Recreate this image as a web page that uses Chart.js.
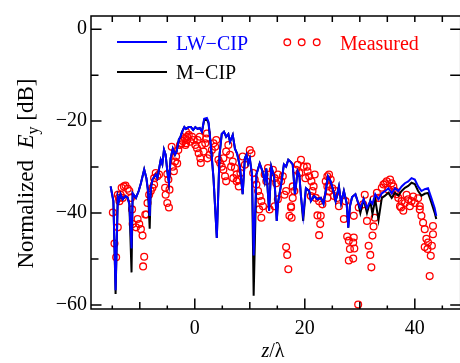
<!DOCTYPE html>
<html>
<head>
<meta charset="utf-8">
<script src="https://cdn.jsdelivr.net/npm/chart.js@4.4.0/dist/chart.umd.min.js"></script>
<style>
  html, body { margin: 0; padding: 0; background: #fff; overflow: hidden; }
  #wrap { position: relative; width: 466px; height: 363px; }
</style>
</head>
<body>
<div id="wrap"><canvas id="field-chart"></canvas></div>
<script>
// z/lambda positions of the two simulated curves
var zLine = [-15.3,-14.8,-14.4,-14.0,-13.8,-13.5,-13.1,-12.6,-12.2,-11.9,
  -11.5,-11.3,-10.7,-10.2,-9.8,-9.2,-8.8,-8.5,-8.2,-8.0,
  -7.7,-7.1,-6.8,-6.2,-5.9,-5.6,-5.3,-5.0,-4.7,-4.4,
  -4.0,-3.6,-3.3,-2.9,-2.6,-2.3,-1.9,-1.6,-1.1,-0.7,
  -0.3,0.1,0.5,0.9,1.3,1.7,2.2,2.5,2.9,3.4,
  4.0,4.5,4.9,5.3,5.7,6.1,6.4,6.9,7.3,7.7,
  8.2,8.7,9.1,9.4,9.7,10.0,10.4,10.7,11.2,11.8,
  12.3,12.7,13.0,13.5,13.9,14.4,14.6,14.9,15.1,15.7,
  16.2,16.6,17.0,17.4,17.8,18.2,18.7,19.0,19.3,19.7,
  20.2,20.8,21.1,21.7,22.3,22.9,23.4,23.8,24.2,24.7,
  25.2,25.6,26.2,26.6,27.1,27.6,27.9,28.2,28.6,29.2,
  29.7,30.1,30.7,31.3,31.9,32.3,32.8,33.4,34.0,34.6,
  35.2,35.8,36.4,37.0,37.6,38.2,38.8,39.4,40.0,40.6,
  41.2,41.8,42.4,43.0,43.6,43.9];

var lwCip = [-34.2,-37.4,-56.8,-36.5,-37.4,-35.9,-37.0,-36.3,-36.7,-38.0,
  -47.7,-35.7,-36.7,-35.2,-33.5,-30.5,-32.4,-35.2,-40.6,-34.6,
  -32.7,-31.6,-32.4,-28.4,-29.4,-26.2,-27.3,-30.9,-33.5,-28.1,
  -26.0,-27.3,-26.6,-24.0,-23.4,-22.3,-21.3,-21.7,-21.3,-21.3,
  -21.9,-21.3,-21.7,-21.5,-22.3,-19.5,-19.3,-20.2,-25.1,-32.4,
  -45.4,-27.3,-22.8,-22.3,-23.4,-22.8,-24.5,-23.0,-26.0,-27.1,
  -29.9,-35.9,-28.1,-27.3,-29.2,-28.1,-31.6,-49.2,-31.6,-29.2,
  -30.9,-33.1,-30.3,-39.5,-29.9,-32.0,-35.2,-41.7,-38.0,-33.7,
  -29.4,-29.9,-28.4,-28.8,-29.4,-35.9,-30.9,-31.6,-36.3,-40.6,
  -34.6,-35.2,-37.4,-36.3,-37.0,-36.7,-38.0,-35.2,-32.0,-33.1,
  -35.2,-37.4,-34.2,-37.8,-35.2,-37.8,-43.2,-38.5,-36.5,-35.9,
  -37.8,-38.9,-37.0,-38.9,-37.4,-38.0,-35.9,-37.0,-35.7,-35.2,
  -34.6,-35.7,-34.6,-35.2,-34.2,-33.5,-33.1,-32.4,-32.7,-34.2,
  -35.2,-34.8,-34.6,-36.7,-38.9,-40.6];

var mCip = [-34.2,-37.4,-57.6,-36.5,-37.4,-35.9,-37.0,-36.3,-36.7,-38.0,
  -52.9,-35.7,-36.7,-35.2,-33.5,-30.5,-32.4,-35.2,-43.4,-34.6,
  -32.7,-31.6,-32.4,-28.4,-29.4,-26.2,-27.3,-30.9,-33.5,-28.1,
  -26.0,-27.3,-26.6,-24.0,-23.4,-22.3,-21.3,-21.7,-21.3,-21.3,
  -21.9,-21.3,-21.7,-21.5,-22.3,-19.8,-19.6,-20.5,-25.1,-32.4,
  -45.4,-27.3,-22.8,-22.3,-23.4,-22.8,-24.5,-23.0,-26.0,-27.1,
  -29.9,-35.9,-28.1,-27.3,-29.2,-28.1,-31.6,-58.0,-31.6,-29.2,
  -30.9,-33.1,-30.3,-39.5,-29.9,-32.0,-35.2,-41.7,-38.0,-33.7,
  -29.4,-29.9,-28.4,-28.8,-29.4,-35.9,-30.9,-31.6,-36.3,-41.7,
  -34.6,-35.2,-37.4,-36.3,-37.0,-36.7,-38.0,-35.2,-32.0,-33.1,
  -35.2,-37.4,-34.2,-37.8,-35.2,-37.8,-43.2,-38.5,-36.5,-35.9,
  -37.8,-40.0,-37.0,-40.0,-37.4,-40.2,-37.0,-41.5,-36.7,-36.2,
  -35.6,-36.7,-35.6,-36.2,-35.2,-34.5,-34.1,-33.4,-33.7,-35.2,
  -36.2,-35.8,-35.6,-37.7,-39.9,-41.3];

// measured samples
var measZ = [-14.9,-14.6,-14.3,-14.0,-13.7,-13.8,-13.5,-13.3,-12.9,-12.6,
  -12.2,-11.9,-11.6,-11.4,-11.3,-10.7,-10.4,-10.1,-9.8,-9.5,
  -9.0,-8.8,-9.2,-9.4,-8.6,-8.3,-8.0,-7.7,-7.4,-5.3,
  -5.0,-4.7,-5.4,-13.1,-14.0,-7.1,-7.4,-6.8,-6.5,-5.0,
  -4.8,-4.6,-4.2,-4.0,-3.6,-3.4,-3.0,-2.7,-2.4,-2.2,
  -1.8,-1.6,-1.4,-1.6,-1.5,-1.1,-1.7,-0.8,-0.5,-0.2,
  0.1,0.4,0.7,1.0,1.1,1.6,1.9,2.1,2.2,2.3,
  2.7,3.1,3.4,3.7,3.9,4.3,4.6,4.9,5.2,5.5,
  5.7,5.2,5.7,6.1,6.4,6.9,7.3,7.6,7.9,7.6,
  8.3,8.7,9.1,10.0,10.3,10.6,10.9,11.2,11.5,11.8,
  12.1,12.4,11.7,12.1,13.3,14.2,14.5,14.8,15.1,15.7,
  16.0,16.3,16.6,15.1,14.5,17.8,18.1,17.8,17.5,18.4,
  18.7,19.3,19.8,20.4,20.5,20.8,21.2,21.6,21.8,21.4,
  22.0,21.1,24.1,24.4,24.7,23.8,24.1,24.4,24.1,25.0,
  25.3,25.6,25.9,26.2,23.2,22.6,27.4,13.6,17.2,17.6,
  17.5,16.6,16.8,17.0,22.3,22.9,22.8,22.6,27.1,27.7,
  28.0,28.9,28.8,28.2,29.0,28.0,28.8,29.7,28.9,31.3,
  31.6,31.9,32.1,32.3,32.5,32.7,37.5,37.9,40.9,41.2,
  41.5,41.8,42.1,42.4,41.8,42.3,42.9,43.3,43.3,43.1,
  42.7,30.9,30.6,29.8,32.5,33.1,33.4,34.0,34.3,34.6,
  34.9,35.5,35.8,36.1,35.2,36.4,37.0,37.6,38.2,38.8,
  39.4,40.0,40.6,40.9,39.1,37.3,-3.8,-3.2,0.5,1.3,
  0.9,6.6,7.0,8.0,12.7,13.0,19.0,20.1,36.7,38.5,
  39.7];

var measEy = [-39.9,-46.6,-49.6,-43.1,-37.4,-36.7,-36.0,-34.5,-34.2,-34.0,
  -34.7,-35.2,-36.7,-39.2,-42.4,-43.1,-41.3,-42.4,-43.5,-44.9,
  -40.3,-40.3,-49.5,-51.6,-37.8,-36.0,-35.2,-34.5,-33.8,-36.0,
  -37.8,-38.8,-34.5,-36.7,-36.0,-31.3,-32.4,-32.0,-31.6,-31.5,
  -32.7,-34.9,-25.6,-29.9,-28.8,-27.7,-26.3,-25.2,-24.8,-24.3,
  -23.8,-24.8,-23.4,-22.3,-24.1,-23.0,-25.2,-24.5,-23.4,-24.1,
  -25.2,-25.9,-27.0,-28.1,-29.1,-26.6,-24.8,-23.8,-22.7,-28.1,
  -27.3,-26.3,-24.8,-25.6,-24.1,-28.4,-29.1,-29.9,-30.6,-32.0,
  -33.1,-28.1,-26.6,-25.2,-27.3,-28.8,-30.2,-31.6,-32.7,-33.1,
  -31.3,-27.7,-29.5,-26.3,-27.0,-31.3,-32.7,-33.8,-35.2,-36.3,
  -37.4,-38.5,-39.2,-41.0,-30.2,-30.6,-32.4,-33.5,-31.6,-33.1,
  -32.0,-36.0,-35.2,-37.0,-38.5,-34.2,-35.2,-36.7,-38.5,-30.6,
  -29.5,-28.4,-29.9,-29.9,-30.9,-32.0,-33.1,-34.2,-31.6,-35.2,
  -36.7,-36.3,-32.0,-31.6,-32.7,-33.1,-34.2,-35.2,-36.7,-34.6,
  -36.3,-35.2,-36.7,-38.5,-38.1,-37.4,-37.4,-39.2,-40.6,-41.0,
  -38.8,-47.4,-49.1,-52.2,-40.5,-40.6,-42.4,-44.8,-41.3,-45.1,
  -46.0,-45.3,-46.4,-47.8,-47.7,-50.3,-49.9,-59.9,-40.6,-41.7,
  -47.1,-49.1,-51.8,-44.9,-42.9,-41.0,-38.8,-39.5,-39.2,-40.6,
  -42.1,-43.5,-45.6,-46.4,-47.4,-47.8,-49.3,-42.8,-44.6,-47.1,
  -53.7,-36.0,-38.1,-38.8,-37.0,-35.6,-36.7,-34.5,-33.8,-33.5,
  -33.1,-32.7,-33.5,-34.2,-34.9,-35.2,-36.7,-37.4,-37.8,-37.0,
  -37.4,-37.8,-36.8,-38.5,-38.5,-38.5,-30.9,-29.2,-24.1,-25.2,
  -23.4,-29.9,-32.4,-34.2,-31.6,-33.1,-31.3,-32.4,-35.9,-36.0,
  -36.4];

var xTicks = [0, 20, 40];
var yTicks = [-60, -40, -20, 0];

var SERIF = '"Liberation Serif", "Times New Roman", serif';

function pts(xs, ys) {
  return xs.map(function (v, i) { return { x: v, y: ys[i] }; });
}
function minus(v) {
  return v < 0 ? "\u2212" + Math.abs(v) : String(v);
}

// frame, inward ticks, legend and axis titles
var decor = {
  id: "decor",
  afterDraw: function (chart) {
    var ctx = chart.ctx, a = chart.chartArea;
    var xs = chart.scales.x, ys = chart.scales.y;
    ctx.save();
    ctx.strokeStyle = "#000";
    ctx.lineWidth = 1.5;
    ctx.strokeRect(a.left, a.top, a.right - a.left, a.bottom - a.top);
    ctx.beginPath();
    for (var v = -15; v <= 45; v += 5) {
      var px = xs.getPixelForValue(v);
      var len = v % 20 === 0 ? 10.5 : (v % 10 === 0 ? 7 : 3.5);
      ctx.moveTo(px, a.bottom); ctx.lineTo(px, a.bottom - len);
      ctx.moveTo(px, a.top); ctx.lineTo(px, a.top + 6);
    }
    for (var w = -60; w <= 0; w += 10) {
      var py = ys.getPixelForValue(w);
      var l2 = w % 20 === 0 ? 10.5 : 7.5;
      ctx.moveTo(a.left, py); ctx.lineTo(a.left + l2, py);
      ctx.moveTo(a.right, py); ctx.lineTo(a.right - 10.5, py);
    }
    ctx.stroke();

    // legend
    ctx.lineWidth = 1.8;
    ctx.strokeStyle = "#0000ff";
    ctx.beginPath(); ctx.moveTo(117, 42); ctx.lineTo(167, 42); ctx.stroke();
    ctx.strokeStyle = "#000";
    ctx.beginPath(); ctx.moveTo(117, 72); ctx.lineTo(167, 72); ctx.stroke();
    ctx.strokeStyle = "#ff0000";
    ctx.lineWidth = 1.3;
    [287.3, 301.7, 316.7].forEach(function (cx) {
      ctx.beginPath(); ctx.arc(cx, 42.3, 3.3, 0, Math.PI * 2); ctx.stroke();
    });
    ctx.font = "20px " + SERIF;
    ctx.textBaseline = "alphabetic";
    ctx.textAlign = "left";
    ctx.fillStyle = "#0000ff";
    ctx.fillText("LW\u2212CIP", 176, 50);
    ctx.fillStyle = "#000";
    ctx.fillText("M\u2212CIP", 176, 79);
    ctx.fillStyle = "#ff0000";
    ctx.fillText("Measured", 340, 50);

    // x title
    ctx.fillStyle = "#000";
    var f1 = "italic 20px " + SERIF, f2 = "20px " + SERIF;
    ctx.font = f1; var wz = ctx.measureText("z").width;
    ctx.font = f2; var wl = ctx.measureText("/\u03bb").width;
    var x0 = 273 - (wz + wl) / 2;
    ctx.font = f1; ctx.fillText("z", x0, 357);
    ctx.font = f2; ctx.fillText("/\u03bb", x0 + wz, 357);

    // y title
    ctx.translate(33, 173.5);
    ctx.rotate(-Math.PI / 2);
    var parts = [
      ["Normalized  ", "23px " + SERIF, 0],
      ["E", "italic 23px " + SERIF, 0],
      ["y", "16px " + SERIF, 5],
      [" [dB]", "23px " + SERIF, 0]
    ];
    var total = 0;
    parts.forEach(function (p) { ctx.font = p[1]; total += ctx.measureText(p[0]).width; });
    var cx0 = -total / 2;
    parts.forEach(function (p) {
      ctx.font = p[1];
      ctx.fillText(p[0], cx0, p[2]);
      cx0 += ctx.measureText(p[0]).width;
    });
    ctx.restore();
  }
};

var ctx = document.getElementById("field-chart");

var fieldChart = new Chart(ctx, {
  type: "scatter",
  data: {
    datasets: [
      {
        label: "LW\u2212CIP",
        data: pts(zLine, lwCip),
        showLine: true,
        borderColor: "#0000ff",
        borderWidth: 2,
        pointRadius: 0,
        order: 0,
      },
      {
        label: "M\u2212CIP",
        data: pts(zLine, mCip),
        showLine: true,
        borderColor: "#000000",
        borderWidth: 2,
        pointRadius: 0,
        order: 1,
      },
      {
        label: "Measured",
        data: pts(measZ, measEy),
        showLine: false,
        borderColor: "#ff0000",
        backgroundColor: "rgba(0,0,0,0)",
        borderWidth: 1.3,
        pointRadius: 3.4,
        order: 2,
      },
    ],
  },
  options: {
    responsive: true,
    maintainAspectRatio: false,
    animation: false,
    events: [],
    layout: { padding: { top: 13, right: 1, left: 0, bottom: 0 } },
    plugins: { legend: { display: false }, tooltip: { enabled: false } },
    scales: {
      x: {
        type: "linear",
        min: -18.87,
        max: 48.34,
        grid: { display: false, drawTicks: false },
        border: { display: false },
        afterBuildTicks: function (s) { s.ticks = xTicks.map(function (v) { return { value: v }; }); },
        afterFit: function (s) { s.height = 54; },
        ticks: {
          padding: 8,
          color: "#000",
          font: { family: SERIF, size: 20 },
          callback: function (v) { return minus(v); },
        },
      },
      y: {
        min: -60.86,
        max: 2.86,
        grid: { display: false, drawTicks: false },
        border: { display: false },
        afterBuildTicks: function (s) { s.ticks = yTicks.map(function (v) { return { value: v }; }); },
        afterFit: function (s) { s.width = 91; },
        ticks: {
          padding: 4,
          color: "#000",
          font: { family: SERIF, size: 20 },
          callback: function (v) { return minus(v); },
        },
      },
    },
  },
  plugins: [decor],
});
</script>
</body>
</html>
